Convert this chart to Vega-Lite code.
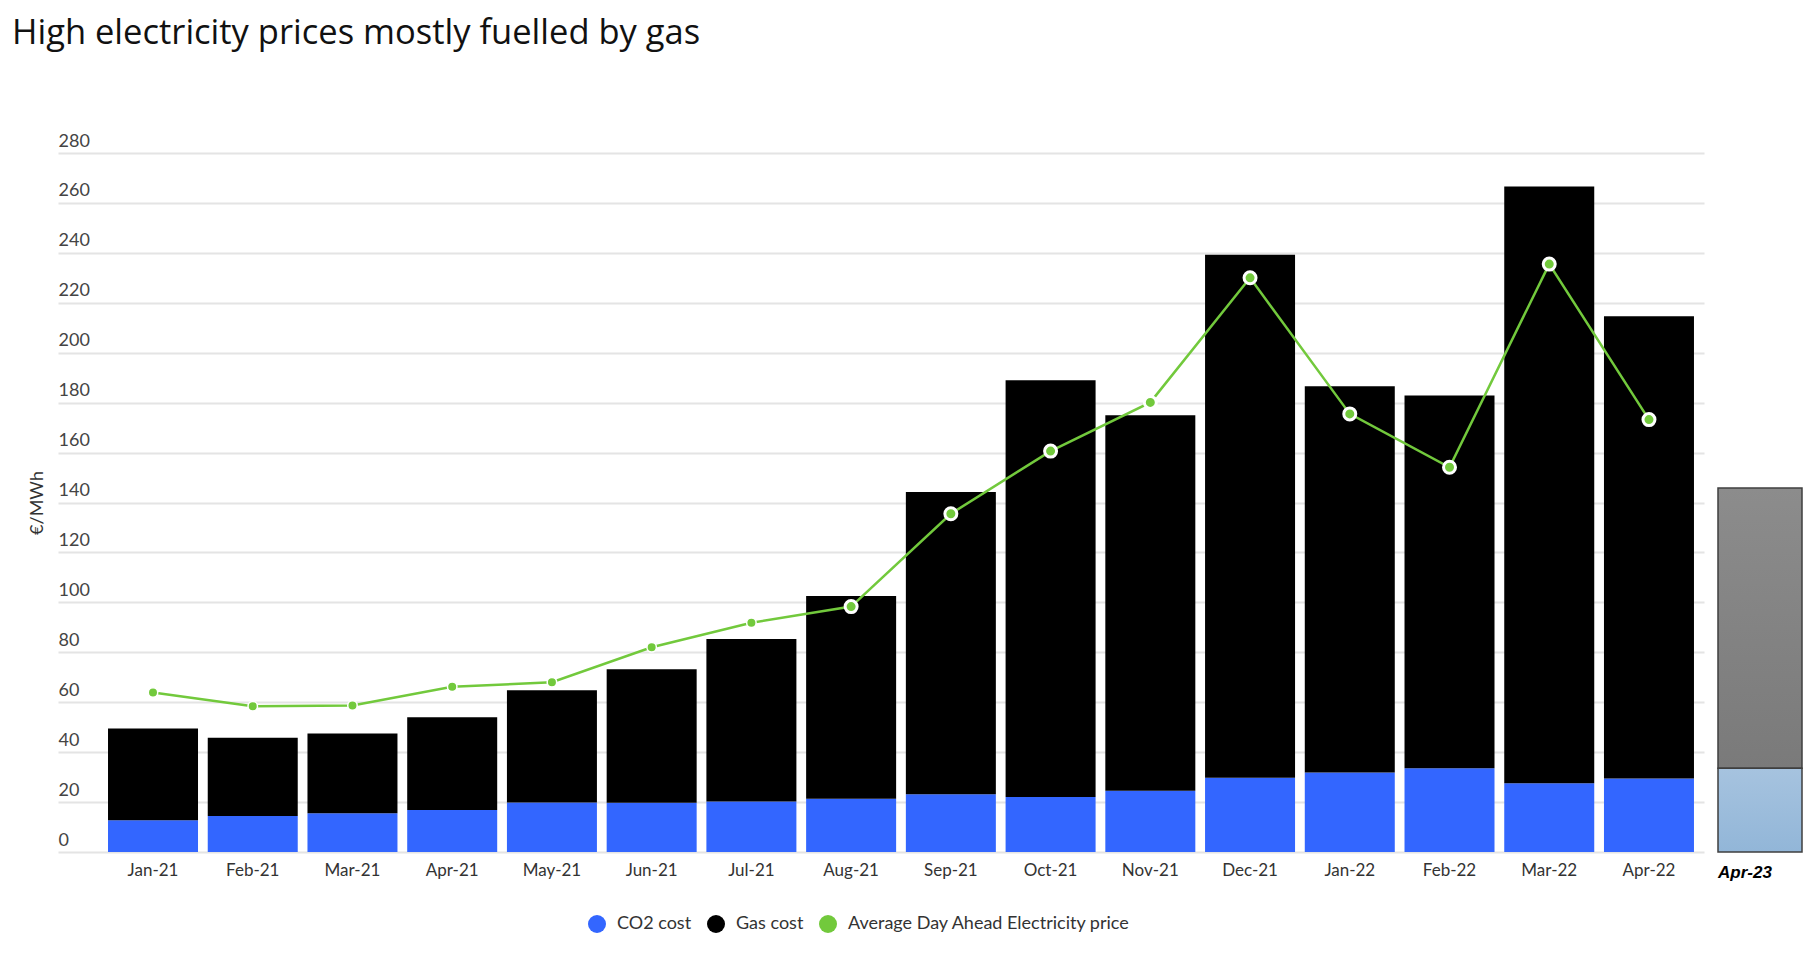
{
  "$schema": "https://vega.github.io/schema/vega-lite/v6.json",
  "background": "white",
  "padding": {"left": 12, "top": 15, "right": 14, "bottom": 24},
  "title": {
    "text": "High electricity prices mostly fuelled by gas",
    "anchor": "start",
    "font": "Open Sans",
    "fontSize": 34.5,
    "fontWeight": "normal",
    "color": "#111111",
    "offset": 81,
    "dx": -16
  },
  "datasets": {
    "costs": [
      {"month": "Jan-21", "component": "CO2 cost", "value": 12.7},
      {"month": "Jan-21", "component": "Gas cost", "value": 36.8},
      {"month": "Feb-21", "component": "CO2 cost", "value": 14.4},
      {"month": "Feb-21", "component": "Gas cost", "value": 31.4},
      {"month": "Mar-21", "component": "CO2 cost", "value": 15.5},
      {"month": "Mar-21", "component": "Gas cost", "value": 32.0},
      {"month": "Apr-21", "component": "CO2 cost", "value": 16.8},
      {"month": "Apr-21", "component": "Gas cost", "value": 37.2},
      {"month": "May-21", "component": "CO2 cost", "value": 19.8},
      {"month": "May-21", "component": "Gas cost", "value": 45.0},
      {"month": "Jun-21", "component": "CO2 cost", "value": 19.7},
      {"month": "Jun-21", "component": "Gas cost", "value": 53.5},
      {"month": "Jul-21", "component": "CO2 cost", "value": 20.2},
      {"month": "Jul-21", "component": "Gas cost", "value": 65.1},
      {"month": "Aug-21", "component": "CO2 cost", "value": 21.3},
      {"month": "Aug-21", "component": "Gas cost", "value": 81.2},
      {"month": "Sep-21", "component": "CO2 cost", "value": 23.1},
      {"month": "Sep-21", "component": "Gas cost", "value": 121.1},
      {"month": "Oct-21", "component": "CO2 cost", "value": 22.0},
      {"month": "Oct-21", "component": "Gas cost", "value": 167.0},
      {"month": "Nov-21", "component": "CO2 cost", "value": 24.5},
      {"month": "Nov-21", "component": "Gas cost", "value": 150.5},
      {"month": "Dec-21", "component": "CO2 cost", "value": 29.7},
      {"month": "Dec-21", "component": "Gas cost", "value": 209.5},
      {"month": "Jan-22", "component": "CO2 cost", "value": 31.8},
      {"month": "Jan-22", "component": "Gas cost", "value": 154.8},
      {"month": "Feb-22", "component": "CO2 cost", "value": 33.5},
      {"month": "Feb-22", "component": "Gas cost", "value": 149.4},
      {"month": "Mar-22", "component": "CO2 cost", "value": 27.5},
      {"month": "Mar-22", "component": "Gas cost", "value": 239.1},
      {"month": "Apr-22", "component": "CO2 cost", "value": 29.4},
      {"month": "Apr-22", "component": "Gas cost", "value": 185.2}
    ],
    "prices": [
      {"month": "Jan-21", "price": 63.9},
      {"month": "Feb-21", "price": 58.4},
      {"month": "Mar-21", "price": 58.7},
      {"month": "Apr-21", "price": 66.2},
      {"month": "May-21", "price": 68.0},
      {"month": "Jun-21", "price": 82.0},
      {"month": "Jul-21", "price": 91.8},
      {"month": "Aug-21", "price": 98.3},
      {"month": "Sep-21", "price": 135.5},
      {"month": "Oct-21", "price": 160.6},
      {"month": "Nov-21", "price": 180.1},
      {"month": "Dec-21", "price": 230.0},
      {"month": "Jan-22", "price": 175.5},
      {"month": "Feb-22", "price": 154.1},
      {"month": "Mar-22", "price": 235.5},
      {"month": "Apr-22", "price": 173.2}
    ],
    "apr23": [
      {"month": "Apr-23", "component": "CO2 cost", "value": 33.5},
      {"month": "Apr-23", "component": "Gas cost", "value": 112.3}
    ]
  },
  "spacing": 14,
  "bounds": "flush",
  "hconcat": [
    {
      "width": 1646,
      "height": 699,
      "layer": [
        {
          "data": {"name": "costs"},
          "mark": {"type": "bar"},
          "encoding": {
            "x": {
              "field": "month",
              "type": "ordinal",
              "scale": {
                "domain": ["Jan-21", "Feb-21", "Mar-21", "Apr-21", "May-21", "Jun-21", "Jul-21", "Aug-21", "Sep-21", "Oct-21", "Nov-21", "Dec-21", "Jan-22", "Feb-22", "Mar-22", "Apr-22"],
                "paddingInner": 0.0976,
                "paddingOuter": 0.301,
                "align": 0.833
              },
              "axis": {
                "title": null,
                "labelAngle": 0,
                "domain": false,
                "ticks": false,
                "tickSize": 0,
                "labelPadding": 10,
                "labelFont": "Lato",
                "labelFontSize": 17,
                "labelColor": "#333333"
              }
            },
            "y": {
              "field": "value",
              "type": "quantitative",
              "stack": "zero",
              "scale": {"domain": [0, 280], "nice": false},
              "axis": {
                "values": [0, 20, 40, 60, 80, 100, 120, 140, 160, 180, 200, 220, 240, 260, 280],
                "title": "€/MWh",
                "grid": true,
                "gridColor": "#e4e4e4",
                "gridWidth": 2,
                "domain": false,
                "ticks": false,
                "tickSize": 0,
                "labelAlign": "left",
                "labelBaseline": "alphabetic",
                "labelPadding": 0,
                "labelOffset": -7,
                "labelFont": "Lato",
                "labelFontSize": 18,
                "labelColor": "#444444",
                "titleFont": "Lato",
                "titleFontSize": 18,
                "titleFontWeight": "normal",
                "titleColor": "#333333",
                "titlePadding": 12
              }
            },
            "color": {
              "field": "component",
              "type": "nominal",
              "scale": {
                "domain": ["CO2 cost", "Gas cost", "Average Day Ahead Electricity price"],
                "range": ["#3366ff", "#000000", "#72c93c"]
              },
              "legend": {
                "title": null,
                "orient": "none",
                "legendX": 530,
                "legendY": 762,
                "direction": "horizontal",
                "symbolType": "circle",
                "symbolSize": 324,
                "symbolStrokeWidth": 0,
                "labelFont": "Lato",
                "labelFontSize": 18,
                "labelColor": "#333333",
                "labelLimit": 400,
                "labelOffset": 11,
                "columnPadding": 15
              }
            },
            "order": {"field": "component", "sort": "ascending"}
          }
        },
        {
          "data": {"name": "prices"},
          "mark": {"type": "line", "color": "#72c93c", "strokeWidth": 2.5},
          "encoding": {
            "x": {"field": "month", "type": "ordinal"},
            "y": {"field": "price", "type": "quantitative"}
          }
        },
        {
          "data": {"name": "prices"},
          "mark": {"type": "circle", "fill": "#72c93c", "stroke": "#ffffff", "opacity": 1},
          "encoding": {
            "x": {"field": "month", "type": "ordinal"},
            "y": {"field": "price", "type": "quantitative"},
            "size": {
              "condition": {"test": "indexof(['Jan-21','Feb-21','Mar-21','Apr-21','May-21','Jun-21','Jul-21'], datum.month) >= 0", "value": 90},
              "value": 144
            },
            "strokeWidth": {
              "condition": {"test": "indexof(['Jan-21','Feb-21','Mar-21','Apr-21','May-21','Jun-21','Jul-21'], datum.month) >= 0", "value": 1.5},
              "value": 3
            }
          }
        }
      ]
    },
    {
      "width": 84,
      "height": 699,
      "data": {"name": "apr23"},
      "encoding": {
        "x": {
          "field": "month",
          "type": "ordinal",
          "scale": {"paddingInner": 0, "paddingOuter": 0},
          "axis": {
            "title": null,
            "labelAngle": 0,
            "domain": false,
            "ticks": false,
            "tickSize": 0,
            "labelPadding": 12,
            "labelAlign": "left",
            "labelOffset": -42,
            "labelFont": "Liberation Sans",
            "labelFontSize": 17,
            "labelFontWeight": "bold",
            "labelFontStyle": "italic",
            "labelColor": "#000000"
          }
        },
        "y": {
          "field": "value",
          "type": "quantitative",
          "stack": "zero",
          "scale": {"domain": [0, 280], "nice": false},
          "axis": null
        },
        "detail": {"field": "component"},
        "order": {"field": "component", "sort": "ascending"}
      },
      "layer": [
        {
          "mark": {
            "type": "bar",
            "fill": {"gradient": "linear", "x1": 0, "y1": 0, "x2": 0, "y2": 1, "stops": [{"offset": 0, "color": "#8c8c8c"}, {"offset": 1, "color": "#7a7a7a"}]},
            "stroke": "#3f3f3f",
            "strokeWidth": 1.5
          },
          "encoding": {
            "opacity": {"condition": {"test": "datum.component === 'Gas cost'", "value": 1}, "value": 0}
          }
        },
        {
          "mark": {
            "type": "bar",
            "fill": {"gradient": "linear", "x1": 0, "y1": 0, "x2": 0, "y2": 1, "stops": [{"offset": 0, "color": "#a6c3df"}, {"offset": 1, "color": "#92b6d8"}]},
            "stroke": "#3f3f3f",
            "strokeWidth": 1.5
          },
          "encoding": {
            "opacity": {"condition": {"test": "datum.component === 'CO2 cost'", "value": 1}, "value": 0}
          }
        }
      ]
    }
  ],
  "config": {
    "view": {"stroke": null}
  }
}
